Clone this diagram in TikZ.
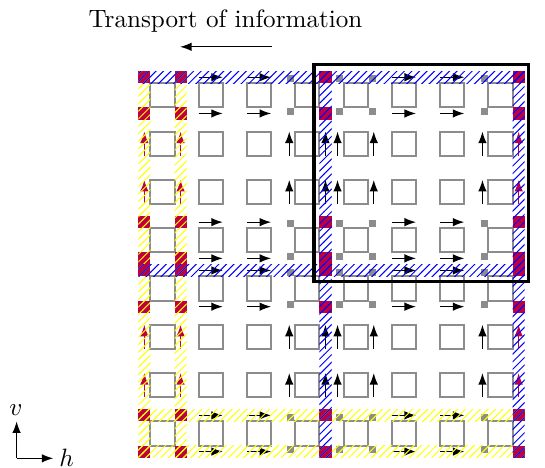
\documentclass[tikz,border=0pt]{standalone}
\usetikzlibrary{patterns,arrows.meta}
\begin{document}
\begin{tikzpicture}[x=9.625pt,y=-9.625pt,
  cellbox/.style={draw=black!45,line width=0.8pt},
  arr/.style={-{Latex[length=4.6pt,width=3.4pt]},line width=0.5pt},
  corner/.style={fill=purple},
  dotsq/.style={fill=black!45},
  bluehatch/.style={pattern=north east lines,pattern color=blue},
  yellowhatch/.style={pattern=north east lines,pattern color=yellow},
  blockbox/.style={draw=black,line width=1.3pt}]
\useasboundingbox (-5.727,-2.948) rectangle (16.84,16.43);
% cells
\foreach \i in {0,...,7}
  \foreach \j in {0,...,7}
    \draw[cellbox] (2*\i+0.5,2*\j+0.5) rectangle (2*\i+1.5,2*\j+1.5);
% horizontal arrows
\foreach \i in {1,2,5,6}
  \foreach \j in {0,3,4,7} {
    \draw[arr] (2*\i+0.5,2*\j+0.25) -- (2*\i+1.5,2*\j+0.25);
    \draw[arr] (2*\i+0.5,2*\j+1.75) -- (2*\i+1.5,2*\j+1.75);
  }
% vertical arrows
\foreach \i/\lc/\rc in {0/purple/purple,3/black/black,4/black/black,7/black/purple}
  \foreach \j in {1,2,5,6} {
    \draw[arr,\lc] (2*\i+0.25,2*\j+1.5) -- (2*\i+0.25,2*\j+0.5);
    \draw[arr,\rc] (2*\i+1.75,2*\j+1.5) -- (2*\i+1.75,2*\j+0.5);
  }
% corner quantities
\foreach \j in {0,3,4,7} {
  \foreach \x in {0,1.5,7.5,15.5} {
    \fill[corner] (\x,2*\j) rectangle ++(0.5,0.5);
    \fill[corner] (\x,2*\j+1.5) rectangle ++(0.5,0.5);
  }
  \foreach \x in {6.32,8.32,9.68,14.32} {
    \fill[dotsq] (\x-0.145,2*\j+0.32-0.145) rectangle ++(0.29,0.29);
    \fill[dotsq] (\x-0.145,2*\j+1.68-0.145) rectangle ++(0.29,0.29);
  }
}
% hatched strips
\fill[yellowhatch] (0,0) rectangle (0.5,16);
\fill[yellowhatch] (1.5,0) rectangle (2,16);
\fill[yellowhatch] (0,14) rectangle (16,14.5);
\fill[yellowhatch] (0,15.5) rectangle (16,16);
\fill[bluehatch] (0,0) rectangle (16,0.5);
\fill[bluehatch] (0,8) rectangle (16,8.5);
\fill[bluehatch] (7.5,0) rectangle (8,16);
\fill[bluehatch] (15.5,0) rectangle (16,16);
% block
\draw[blockbox] (7.28,-0.27) rectangle (16.15,8.72);
% title
\node[anchor=base,inner sep=0pt] (title) at (3.61,-1.83) {Transport of information};
\coordinate (ta) at (5.52,-1.01);
\coordinate (tb) at (1.73,-1.01);
\draw[arr] (ta) -- (tb);
% axes legend
\coordinate (o) at (-5.04,16.03);
\coordinate (vt) at (-5.04,14.5);
\coordinate (ht) at (-3.52,16.03);
\draw[arr] (o) -- (vt);
\draw[arr] (o) -- (ht);
\node[inner sep=0pt] (vlab) at (-5.07,14.03) {$v$};
\node[inner sep=0pt] (hlab) at (-2.97,15.99) {$h$};
\end{tikzpicture}
\end{document}
